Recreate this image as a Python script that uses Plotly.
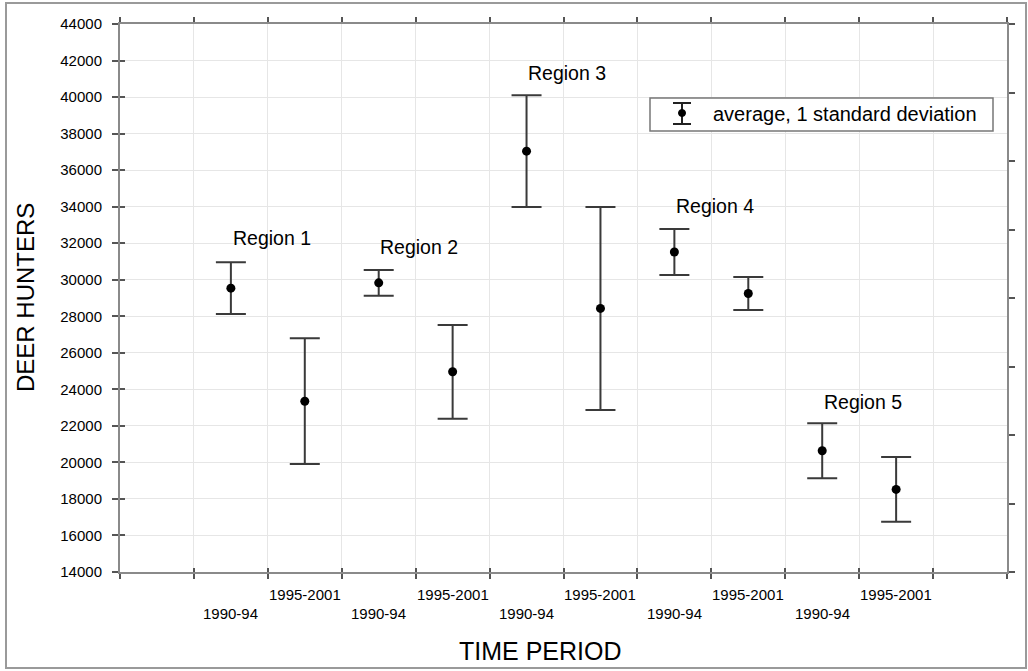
import plotly.graph_objects as go
import numpy as np

regions = ["Region 1", "Region 2", "Region 3", "Region 4", "Region 5"]
periods = ["1990-94", "1995-2001"]
means = [29540, 23350, 29830, 24960, 37040, 28430, 31520, 29245, 20635, 18520]
sds = [1415, 3440, 705, 2565, 3055, 5555, 1260, 905, 1505, 1770]
y_ticks = list(range(14000, 44001, 2000))

# layout helpers (positions)
n = len(means)
xpos = np.arange(n) + 1.5
region_label_y = [32300, 31800, 41300, 34050, 23300]

FONT = "Liberation Sans, Arial, sans-serif"
AX = "#8a8a8a"
TXT = "#000"

fig = go.Figure()
fig.add_trace(go.Scatter(
    x=xpos, y=means, mode="markers",
    marker=dict(color="black", size=9),
    error_y=dict(type="data", array=sds, visible=True, color="#3a3a3a",
                 thickness=2, width=15),
    showlegend=False, hoverinfo="skip"))
# invisible traces for right axis and inside tick overlays
fig.add_trace(go.Scatter(x=[0], y=[0], yaxis="y2", mode="markers",
                         marker=dict(opacity=0), showlegend=False, hoverinfo="skip"))
fig.add_trace(go.Scatter(x=[0], y=[20000], yaxis="y3", mode="markers",
                         marker=dict(opacity=0), showlegend=False, hoverinfo="skip"))
fig.add_trace(go.Scatter(x=[0], y=[20000], xaxis="x2", mode="markers",
                         marker=dict(opacity=0), showlegend=False, hoverinfo="skip"))

annotations = []
for i, x in enumerate(xpos):
    per = periods[i % 2]
    annotations.append(dict(
        x=x, y=0, xref="x", yref="paper", text=per, showarrow=False,
        yanchor="top", yshift=-12 if per == "1995-2001" else -31,
        font=dict(family=FONT, size=15, color=TXT)))
for r, name in enumerate(regions):
    annotations.append(dict(
        x=2 * r + 2.05, y=region_label_y[r], xref="x", yref="y", text=name,
        showarrow=False, xanchor="center", yanchor="middle",
        font=dict(family=FONT, size=19.5, color=TXT)))

def px(xp):
    return (xp - 120) / 887

def py(yp):
    return (572 - yp) / 548

annotations.append(dict(x=px(540), y=py(651), xref="paper", yref="paper",
                        text="TIME PERIOD", showarrow=False, xanchor="center", yanchor="middle",
                        font=dict(family=FONT, size=25, color=TXT)))
annotations.append(dict(x=px(25), y=py(298), xref="paper", yref="paper",
                        text="DEER HUNTERS", showarrow=False, textangle=-90,
                        xanchor="center", yanchor="middle",
                        font=dict(family=FONT, size=24, color=TXT)))
# legend text
annotations.append(dict(x=px(711), y=py(114), xref="paper", yref="paper",
                        text="average, 1 standard deviation", showarrow=False,
                        xanchor="left", yanchor="middle",
                        font=dict(family=FONT, size=20, color=TXT)))

shapes = [
    # figure frame
    dict(type="rect", xref="paper", yref="paper", x0=px(6), x1=px(1026), y0=py(668), y1=py(3),
         line=dict(color="#9a9a9a", width=2)),
    # legend box
    dict(type="rect", xref="paper", yref="paper", x0=px(650), x1=px(993), y0=py(131), y1=py(98),
         line=dict(color="#777", width=1.5), fillcolor="white", layer="above"),
    dict(type="line", xref="paper", yref="paper", x0=px(682), x1=px(682), y0=py(124), y1=py(103),
         line=dict(color="#222", width=2), layer="above"),
    dict(type="line", xref="paper", yref="paper", x0=px(673), x1=px(691), y0=py(103), y1=py(103),
         line=dict(color="#222", width=2), layer="above"),
    dict(type="line", xref="paper", yref="paper", x0=px(673), x1=px(691), y0=py(124), y1=py(124),
         line=dict(color="#222", width=2), layer="above"),
    dict(type="circle", xref="paper", yref="paper", x0=px(678.5), x1=px(685.5), y0=py(116.5), y1=py(109.5),
         line=dict(color="black", width=1), fillcolor="black", layer="above"),
]

fig.update_layout(
    width=1028, height=671,
    margin=dict(l=120, r=21, t=24, b=99),
    paper_bgcolor="white", plot_bgcolor="white",
    showlegend=False,
    xaxis=dict(range=[0, 12], tickmode="linear", tick0=0, dtick=1,
               showticklabels=False, ticks="outside", ticklen=5, tickcolor="#555", tickwidth=1.5,
               showgrid=True, gridcolor="#e6e6e6", gridwidth=1,
               showline=True, linecolor=AX, linewidth=2, mirror="ticks", zeroline=False),
    xaxis2=dict(range=[0, 12], tickmode="linear", tick0=0, dtick=1, overlaying="x", side="bottom",
                showticklabels=False, ticks="inside", ticklen=4, tickcolor="#555", tickwidth=1.5,
                showgrid=False, showline=False, zeroline=False),
    yaxis=dict(range=[14000, 44000], tickvals=y_ticks, ticktext=[str(v) for v in y_ticks],
               ticks="outside", ticklen=6, tickcolor="#555", tickwidth=1.5,
               ticklabelstandoff=7,
               tickfont=dict(family=FONT, size=15, color=TXT),
               showgrid=True, gridcolor="#e6e6e6", gridwidth=1,
               showline=True, linecolor=AX, linewidth=2, zeroline=False),
    yaxis3=dict(range=[14000, 44000], tickvals=y_ticks, overlaying="y", side="left",
                showticklabels=False, ticks="inside", ticklen=5, tickcolor="#555", tickwidth=1.5,
                showgrid=False, showline=False, zeroline=False),
    yaxis2=dict(range=[0, 8], dtick=1, tickmode="linear", tick0=0, overlaying="y", side="right",
                showticklabels=False, ticks="outside", ticklen=6, tickcolor="#555", tickwidth=1.5,
                showgrid=False, showline=True, linecolor=AX, linewidth=2, zeroline=False),
    annotations=annotations,
    shapes=shapes,
)

fig.write_html("out.html", config={"displayModeBar": False},
               post_script="document.body.style.margin='0px';")
